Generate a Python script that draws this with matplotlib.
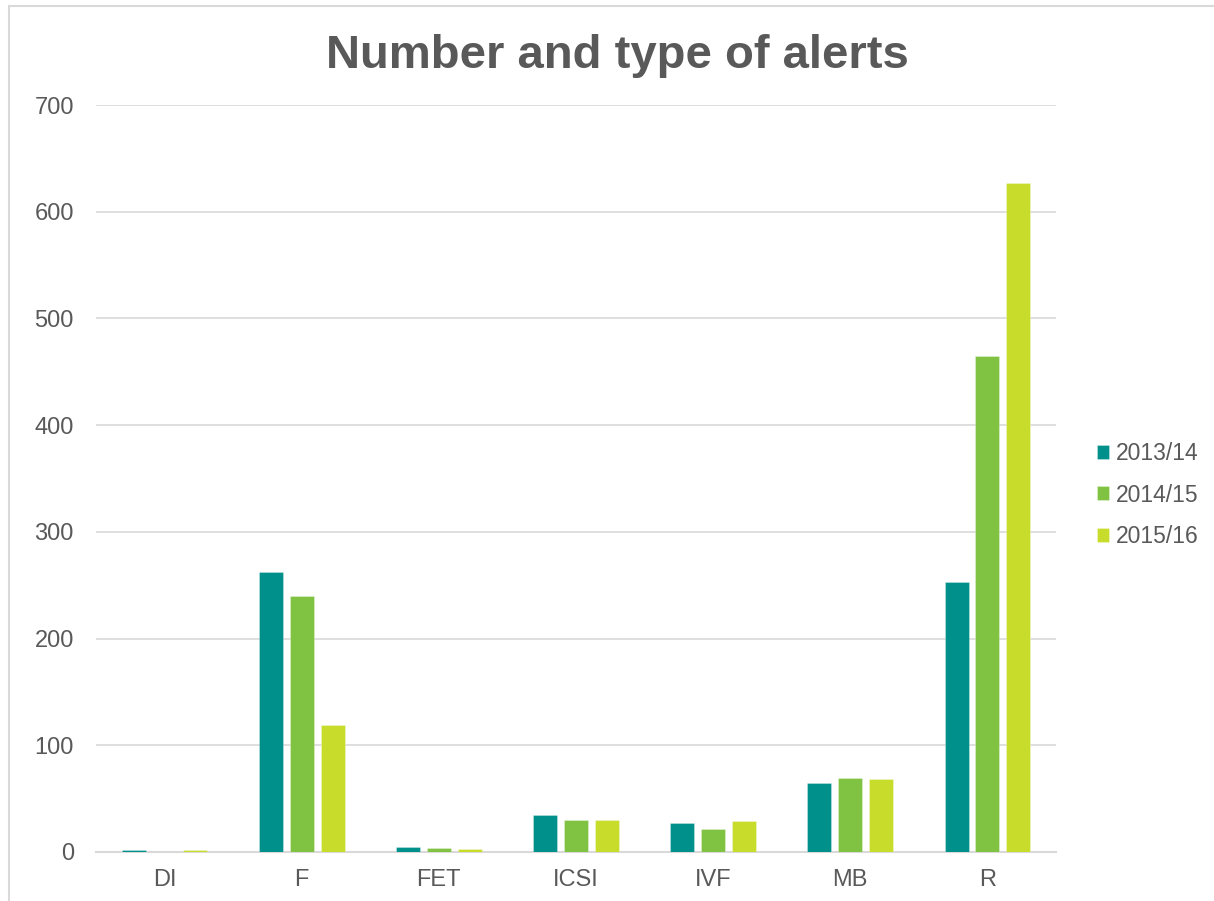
import matplotlib
matplotlib.use("Agg")
import matplotlib.pyplot as plt
import numpy as np
from matplotlib.patches import Rectangle

categories = ["DI", "F", "FET", "ICSI", "IVF", "MB", "R"]
series_names = ["2013/14", "2014/15", "2015/16"]
v2013 = [2, 262, 5, 35, 27, 65, 253]
v2014 = [0, 240, 4, 30, 22, 69, 465]
v2015 = [2, 119, 3, 30, 29, 68, 627]
colors = ["#00908C", "#80C342", "#C8DC2C"]
yticks = [0, 100, 200, 300, 400, 500, 600, 700]

plt.rcParams['font.family'] = ['Liberation Sans', 'DejaVu Sans']
fig = plt.figure(figsize=(12.14, 9.01), dpi=100)
W, H = 1214, 901
# outer frame
fig.patches.append(Rectangle((9/W, -0.1), 1.2, (901 - 6) / H + 0.1, transform=fig.transFigure,
                             fill=False, edgecolor="#D9D9D9", linewidth=1.5))

ax = fig.add_axes([96/W, 1 - 852/H, (1056 - 96)/W, (852 - 105)/H])
x = np.arange(len(categories))
bw = 0.175
off = 0.225
for i, (vals, c, name) in enumerate(zip([v2013, v2014, v2015], colors, series_names)):
    ax.bar(x + (i - 1) * off, vals, width=bw, color=c, label=name,
           edgecolor="#FFFFFF80", linewidth=0.4, zorder=3)

ax.set_xlim(-0.5, len(categories) - 0.5)
ax.set_ylim(0, 700)
ax.set_yticks(yticks)
ax.set_xticks(x)
ax.set_xticklabels(categories)
ax.grid(axis="y", color="#D9D9D9", linewidth=1.2, zorder=0)
for s in ["top", "right", "left"]:
    ax.spines[s].set_visible(False)
ax.spines["bottom"].set_color("#D9D9D9")
ax.spines["bottom"].set_linewidth(1.5)
ax.spines["bottom"].set_zorder(2)
ax.tick_params(axis="both", length=0, labelsize=17, colors="#595959")
ax.tick_params(axis="y", pad=16)
ax.tick_params(axis="x", pad=12)

fig.text(617/W, 1 - 56/H, "Number and type of alerts", ha="center", va="center",
         fontsize=34, fontweight="bold", color="#595959")

leg = ax.legend(loc="center left", bbox_to_anchor=(1076/W, 1 - 495/H), bbox_transform=fig.transFigure,
                frameon=False, fontsize=16.5, handlelength=0.55, handleheight=0.55,
                handletextpad=0.3, labelspacing=0.8)
for t in leg.get_texts():
    t.set_color("#595959")

fig.savefig("out.png", dpi=100)
